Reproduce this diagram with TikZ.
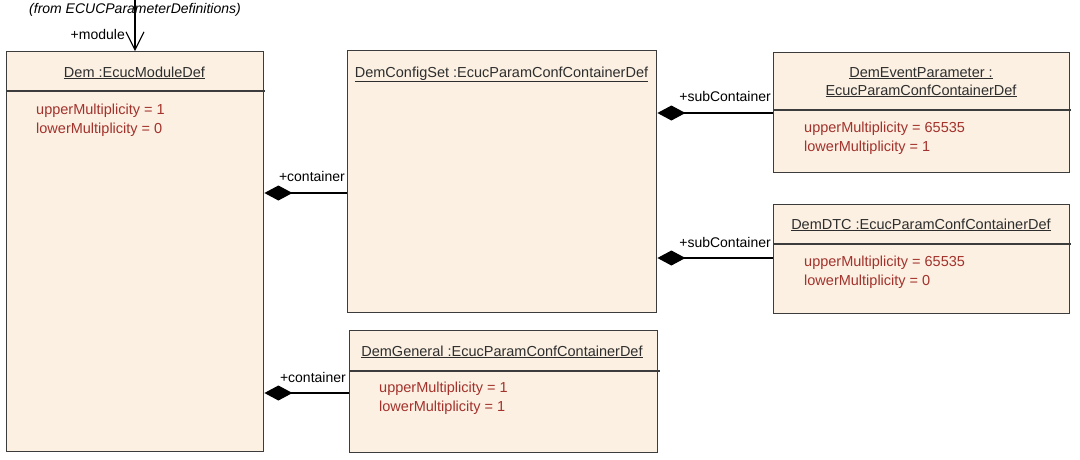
\documentclass[tikz,border=0pt]{standalone}
\usepackage{fontspec}
\setmainfont{Liberation Sans}
\usetikzlibrary{arrows.meta}
\definecolor{boxfill}{HTML}{FBF0E2}
\definecolor{boxline}{HTML}{3C3C3C}
\definecolor{attr}{HTML}{A3322C}
\definecolor{ttl}{HTML}{2E2E2E}
\tikzset{
  umlbox/.style={draw=boxline, fill=boxfill, line width=1.4pt, inner sep=0pt, anchor=north west},
  sep/.style={draw=boxline, line width=1.1pt},
  title/.style={text=ttl, font=\fontsize{14.5}{18}\selectfont, inner sep=0pt, anchor=base, align=center},
  attrs/.style={text=attr, font=\fontsize{14.5}{19}\selectfont, inner sep=0pt, anchor=north west, align=left},
  role/.style={text=black, font=\fontsize{14}{17}\selectfont, inner sep=0pt},
  comp/.style={draw=black, line width=1.3pt, {Diamond[length=28pt,width=15pt]}-},
  nav/.style={draw=black, line width=1.1pt, -{Straight Barb[length=18pt,width=18pt,line width=1.1pt]}}
}
\begin{document}
\begin{tikzpicture}[x=1pt,y=-1pt]
\path[fill=white] (0,0) rectangle (1080,459);
\useasboundingbox (0,0) rectangle (1080,459);

% boxes
\node[umlbox, minimum width=257pt, minimum height=400pt] (dem) at (6,51) {};
\node[umlbox, minimum width=309pt, minimum height=262pt] (cfg) at (347,50) {};
\node[umlbox, minimum width=296pt, minimum height=120pt] (evt) at (773,52) {};
\node[umlbox, minimum width=296pt, minimum height=109pt] (dtc) at (773,204) {};
\node[umlbox, minimum width=308pt, minimum height=122pt] (gen) at (349,330) {};

% separators
\draw[sep] (dem.north west) ++(0,40) -- ++(259,0);
\draw[sep] (evt.north west) ++(0,58) -- ++(298,0);
\draw[sep] (dtc.north west) ++(0,40) -- ++(298,0);
\draw[sep] (gen.north west) ++(0,41) -- ++(311,0);

% titles
\node[title] (demT) at (134.5,77) {\underline{Dem :EcucModuleDef}};
\node[title] (cfgT) at (501.5,77) {\underline{DemConfigSet :EcucParamConfContainerDef}};
\node[title] (evtT1) at (921,77) {\underline{DemEventParameter :}};
\node[title] (evtT2) at (921,95) {\underline{EcucParamConfContainerDef}};
\node[title] (dtcT) at (921,229) {\underline{DemDTC :EcucParamConfContainerDef}};
\node[title] (genT) at (502,356) {\underline{DemGeneral :EcucParamConfContainerDef}};

% attributes
\node[attrs] (demA) at (36,104) {upperMultiplicity = 1\\lowerMultiplicity = 0};
\node[attrs] (evtA) at (804,122) {upperMultiplicity = 65535\\lowerMultiplicity = 1};
\node[attrs] (dtcA) at (804,256) {upperMultiplicity = 65535\\lowerMultiplicity = 0};
\node[attrs] (genA) at (379,382) {upperMultiplicity = 1\\lowerMultiplicity = 1};

% connector anchor rows
\coordinate (r1) at (0,193);
\coordinate (r2) at (0,113);
\coordinate (r3) at (0,258);
\coordinate (r4) at (0,393);
\coordinate (top) at (135,0);

% compositions
\draw[comp] (dem.east |- r1) -- (cfg.west |- r1);
\draw[comp] (cfg.east |- r2) -- (evt.west |- r2);
\draw[comp] (cfg.east |- r3) -- (dtc.west |- r3);
\draw[comp] (dem.east |- r4) -- (gen.west |- r4);

% module navigation
\draw[nav] (top) -- (dem.north -| top);

% role labels
\node[role, anchor=east] (l1) at (345,176) {+container};
\node[role, anchor=east] (l2) at (771,96) {+subContainer};
\node[role, anchor=east] (l3) at (771,242) {+subContainer};
\node[role, anchor=east] (l4) at (346,377) {+container};
\node[role, anchor=east] (lm) at (125,34) {+module};
\node[role, anchor=center, font=\itshape\fontsize{14}{17}\selectfont] (from) at (135,10) {(from ECUCParameterDefinitions)};
\end{tikzpicture}
\end{document}
